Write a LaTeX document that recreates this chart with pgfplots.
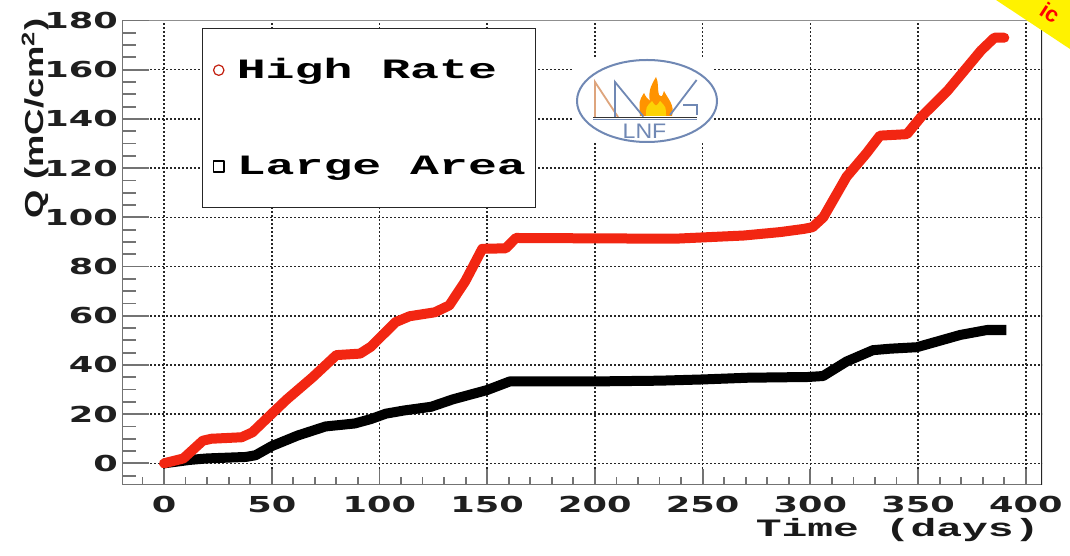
\documentclass[border=0pt]{standalone}
\usepackage{fontspec}
\usepackage{pgfplots}
\pgfplotsset{compat=1.18}
\newfontfamily\tickfont[FakeStretch=1.6]{DejaVu Sans}
\newfontfamily\courfont[FakeStretch=1.72]{Liberation Mono}
\newfontfamily\helvfont{Liberation Sans}
\definecolor{hrred}{RGB}{242,38,18}
\definecolor{logoblue}{RGB}{112,136,180}
\definecolor{logotan}{RGB}{222,165,125}
\definecolor{axgray}{RGB}{115,115,115}

\pgfplotstableread{
x y
0 0
9 2
18 9.2
22 10
36 10.6
41 12.6
51 21
57 26
69 35
80 44
91 44.6
96 47.4
107.5 57.4
114 59.8
125.7 61.4
132.4 64.2
139.8 74
147.7 87.2
158.6 87.4
163.3 91.6
237 91.3
269 92.6
286 94
297 95.3
301 96
306 100
316.8 116.5
326 126
332.3 133.2
344.8 133.8
351.2 140.6
363.6 151.4
379.2 167.8
385.4 173
390 173
}\highrate

\pgfplotstableread{
x y
0 0
12 1.4
20 2
38 2.6
42.5 3.3
50 7
62 11.3
75 15
88.5 16.2
96 18
103 20.2
111.5 21.5
124 23
134 26
150 29.8
160.5 33.3
200 33.3
230 33.6
250 34.1
271 34.8
299 35.1
305.9 35.5
316.8 41.4
329 46
337 46.6
349.4 47.2
358.7 49.5
369.6 52.2
382 54.2
391 54.2
}\largearea

\begin{document}
\begin{tikzpicture}
\path[use as bounding box] (-61pt,-35.5pt) rectangle (474pt,242.5pt);
\begin{axis}[
  scale only axis, width=460pt, height=232.25pt,
  xmin=-19.5, xmax=407.5, ymin=-8.8, ymax=180,
  xtick={0,50,...,400}, minor xtick={-10,0,...,400},
  ytick={0,20,...,180},
  xtick pos=left, ytick pos=left,
  tick align=inside,
  major tick length=8pt, minor tick length=4pt,
  xtick style={axgray, line width=0.9pt},
  ytick style={draw=none},
  xmajorgrids=true, ymajorgrids=true,
  major grid style={black!85, line width=0.8pt, dash pattern=on 0.9pt off 1.1pt},
  axis line style={draw=none},
  /pgf/number format/assume math mode=true,
  tick label style={font=\tickfont\bfseries\fontsize{11}{13}\selectfont, text=black!88},
  yticklabel style={xshift=1.5pt},
  xticklabel style={yshift=-2pt},
  reverse legend,
  legend cell align=left,
  legend style={at={(0.087,0.984)}, anchor=north west, draw=black!85, line width=0.6pt,
    fill=white, inner xsep=5pt, inner ysep=15pt, row sep=37pt,
    font=\courfont\bfseries\fontsize{14}{16}\selectfont,
    nodes={inner sep=0pt},
    /tikz/every odd column/.append style={column sep=6pt}},
]
\addplot[black, line width=5pt, line join=round,
  legend image code/.code={\draw[black, line width=0.7pt] (-2.7pt,-2.7pt) rectangle (2.7pt,2.7pt);}]
  table[x=x,y=y]{\largearea};
\addlegendentry{Large Area}
\addplot[hrred, line width=5pt, line join=round, line cap=round,
  legend image code/.code={\draw[hrred!80!black, line width=0.6pt] (0,0) circle (2.6pt);}]
  table[x=x,y=y]{\highrate};
\addlegendentry{High Rate}
\draw[axgray, line width=1.35pt] (rel axis cs:0,1) -- (rel axis cs:0,0) -- (rel axis cs:1,0);
\draw[axgray!80, line width=0.7pt] (rel axis cs:0,1) -- (rel axis cs:1,1);
\draw[black!85, line width=0.8pt] (rel axis cs:1,0) -- (rel axis cs:1,1);
\end{axis}
\begin{axis}[
  scale only axis, width=460pt, height=232.25pt,
  xmin=-19.5, xmax=407.5, ymin=-8.8, ymax=180,
  xtick=\empty, ytick={0,20,...,180}, minor ytick={-5,0,...,180},
  yticklabels={}, ytick pos=left, tick align=inside,
  major tick length=13.5pt, minor tick length=7pt,
  ytick style={axgray, line width=0.9pt},
  axis line style={draw=none},
]
\addplot[draw=none] coordinates {(0,0)};
\end{axis}
% logo
\fill[white] (225.5pt,171.5pt) rectangle (295.5pt,213.5pt);
\draw[logoblue, line width=1pt] (262.5pt,192pt) ellipse (35pt and 20.5pt);
\fill[orange!85!yellow] (259pt,184.5pt) -- (275pt,184.5pt)
  .. controls (276.5pt,190pt) and (273pt,193pt) .. (271pt,197pt)
  .. controls (270pt,194pt) .. (268.5pt,195pt)
  .. controls (267.5pt,199pt) and (268.5pt,201pt) .. (267pt,204pt)
  .. controls (264pt,199pt) and (263pt,196pt) .. (264pt,192pt)
  .. controls (262pt,194pt) .. (261pt,196pt)
  .. controls (258.5pt,192pt) .. cycle;
\fill[yellow!70!orange] (262pt,184.5pt) -- (272pt,184.5pt) .. controls (272pt,189pt) .. (269pt,192pt) .. controls (267pt,189pt) .. (265pt,192pt) .. controls (262pt,189pt) .. cycle;
\draw[logotan, line width=0.9pt] (236.5pt,184pt) -- (236.5pt,201.5pt) -- (248pt,184pt);
\draw[logoblue, line width=0.9pt] (246.5pt,184pt) -- (246.5pt,201.5pt) -- (260.7pt,184.2pt);
\draw[logoblue, line width=0.9pt] (274pt,185pt) -- (287.3pt,202.5pt);
\draw[logoblue, line width=0.9pt] (280.7pt,190pt) -- (287.3pt,190pt) -- (287.3pt,185pt);
\draw[black!80, line width=0.8pt] (235.5pt,183.8pt) -- (287.5pt,183.8pt);
\draw[logoblue, line width=0.5pt] (235.5pt,182.6pt) -- (287.5pt,182.6pt);
\node[logoblue, font=\helvfont\fontsize{10.5}{12}\selectfont, inner sep=0pt] at (261.25pt,177pt) {\scalebox{1.1}[1]{LNF}};
% axis titles
\node[anchor=base east, inner sep=0pt, font=\courfont\bfseries\fontsize{12.5}{15}\selectfont, text=black!90] at (459pt,-26pt) {Time (days)};
\node[rotate=90, anchor=east, inner sep=0pt, font=\helvfont\bfseries\fontsize{13}{15}\selectfont, text=black!90] at (-43.5pt,233.5pt) {\scalebox{1.4}[1]{Q (mC/cm\textsuperscript{2})}};
% corner banner fragment
\fill[yellow] (437pt,242.5pt) -- (474pt,242.5pt) -- (474pt,218pt) -- cycle;
\node[red, rotate=-33, font=\helvfont\bfseries\fontsize{11}{13}\selectfont, inner sep=0pt] at (464pt,236pt) {ic};
\end{tikzpicture}
\end{document}
